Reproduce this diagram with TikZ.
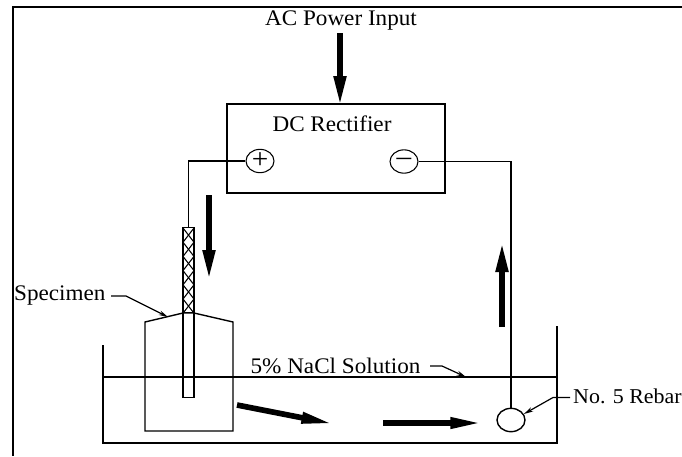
\documentclass[tikz,border=0pt]{standalone}
\usepackage{fontspec}
\setmainfont[FakeStretch=1.04]{Liberation Serif}
\usetikzlibrary{arrows.meta,shapes.geometric}
\tikzset{
  frameline/.style={line width=.65mm},
  wire/.style={line width=.32mm},
  part/.style={line width=.42mm},
  leader/.style={line width=.36mm,-{Stealth[length=2.8mm,width=1.4mm]}},
  fatarrow/.style={line width=1.7mm,-{Triangle[length=9mm,width=3.5mm]}},
  flowarrow/.style={line width=1.7mm,-{Triangle[length=9.8mm,width=3.1mm]}},
  label/.style={inner sep=0,font=\fontsize{19}{22}\selectfont},
  terminal/.style={draw,wire,ellipse,minimum width=8.4mm,minimum height=7mm,inner sep=0,font=\fontsize{24}{24}\selectfont},
}
\begin{document}
\begin{tikzpicture}[x=.3mm,y=-.3mm]
\useasboundingbox (0,0) rectangle (682,456);
%Frame
\coordinate (FrameTR) at (682,7);
\coordinate (FrameTL) at (13,7);
\coordinate (FrameBL) at (13,456);
\draw [frameline] (FrameTR) -- (FrameTL) -- (FrameBL);
%Node Coordinates
\node at (336,148.5) [draw,part,minimum width=65.4mm,minimum height=26.7mm,inner sep=0] (Rectifier) {};
\node at (260,161) [terminal] (PlusTerm) {+};
\node at (404,161.5) [terminal] (MinusTerm) {--};
\node at (188.5,313) [draw,part,minimum width=3.3mm,minimum height=25.5mm,inner sep=0,anchor=south] (Anode) {};
\node at (188.5,398) [draw,part,minimum width=3.3mm,minimum height=25.5mm,inner sep=0,anchor=south] (Stem) {};
\node at (511,420) [draw,part,ellipse,minimum width=8.4mm,minimum height=7mm,inner sep=0] (Rebar) {};
%Node Labels
\node at (341,20) [label] (AcLabel) {AC Power Input};
\node at (332,124) [label] (DcLabel) {DC Rectifier};
\node at (14,295) [label,anchor=west] (SpecimenLabel) {Specimen};
\node at (335.5,366) [label] (NaclLabel) {5\% NaCl Solution};
\node at (573,396) [label,anchor=west,font=\fontsize{18}{22}\selectfont] (RebarLabel) {No. 5 Rebar};
%Specimen
\coordinate (SpecBL) at (145,431);
\coordinate (SpecSL) at (145,322);
\coordinate (SpecTL) at (183,313);
\coordinate (SpecTR) at (194,313);
\coordinate (SpecSR) at (233,322);
\coordinate (SpecBR) at (233,431);
\draw [part] (SpecBL) -- (SpecSL) -- (SpecTL) -- (SpecTR) -- (SpecSR) -- (SpecBR) -- cycle;
%Tank
\coordinate (TankTL) at (103,345);
\coordinate (TankBL) at (103,443);
\coordinate (TankBR) at (557,443);
\coordinate (TankTR) at (557,326);
\coordinate (WaterL) at (103,377);
\coordinate (WaterR) at (557,377);
\draw [part] (TankTL) -- (TankBL) -- (TankBR) -- (TankTR);
\draw [part] (WaterL) -- (WaterR);
%connections
\draw [wire] (PlusTerm) -| (Anode.north);
\draw [wire] (MinusTerm) -| (Rebar);
%Crosses on the anode
\foreach \i in {0,...,5}{
  \coordinate (CrossA\i) at (183,228+14.2*\i);
  \coordinate (CrossB\i) at (194,242.2+14.2*\i);
  \coordinate (CrossC\i) at (194,228+14.2*\i);
  \coordinate (CrossD\i) at (183,242.2+14.2*\i);
  \draw [wire] (CrossA\i) -- (CrossB\i);
  \draw [wire] (CrossC\i) -- (CrossD\i);
}
%Leaders
\coordinate (SpecA) at (111,296);
\coordinate (SpecB) at (126,296);
\coordinate (SpecC) at (168,317);
\draw [leader] (SpecA) -- (SpecB) -- (SpecC);
\coordinate (NaclA) at (430,366);
\coordinate (NaclB) at (442,366);
\coordinate (NaclC) at (466,377);
\draw [leader] (NaclA) -- (NaclB) -- (NaclC);
\coordinate (RebarA) at (570,397.5);
\coordinate (RebarB) at (553,397.5);
\draw [leader] (RebarA) -- (RebarB) -- (Rebar.25);
%Current arrows
\coordinate (AcA) at (340,33);
\coordinate (AcB) at (340,106);
\draw [fatarrow] (AcA) -- (AcB);
\coordinate (DownA) at (209,195);
\coordinate (DownB) at (209,280);
\draw [fatarrow] (DownA) -- (DownB);
\coordinate (UpA) at (502,327);
\coordinate (UpB) at (502,242);
\draw [fatarrow] (UpA) -- (UpB);
\coordinate (SlantA) at (237,405);
\coordinate (SlantB) at (334,424);
\draw [flowarrow] (SlantA) -- (SlantB);
\coordinate (FlowA) at (383,423);
\coordinate (FlowB) at (483,423);
\draw [flowarrow] (FlowA) -- (FlowB);
\end{tikzpicture}
\end{document}
